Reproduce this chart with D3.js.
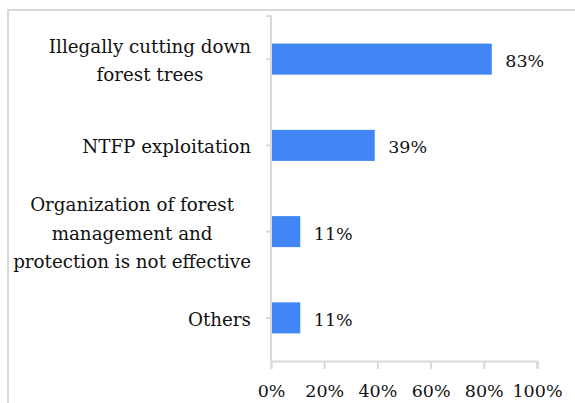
<!DOCTYPE html>
<html>
<head>
<meta charset="utf-8">
<script src="https://cdn.jsdelivr.net/npm/d3@7"></script>
<style>
  body { margin: 0; background: #fff; }
  text { font-family: "DejaVu Serif", serif; fill: #111; }
</style>
</head>
<body>
<svg id="chart" width="575" height="403"></svg>
<script>
// Causes of forest degradation (share of respondents, %)
const categories = [
  "Illegally cutting down forest trees",
  "NTFP exploitation",
  "Organization of forest management and protection is not effective",
  "Others"
];
// Line breaks used for each category label
const categoryLines = [
  ["Illegally cutting down", "forest trees"],
  ["NTFP exploitation"],
  ["Organization of forest", "management and", "protection is not effective"],
  ["Others"]
];
const values = [83, 39, 11, 11];
const xTicks = [0, 20, 40, 60, 80, 100];

const svg = d3.select("#chart");
const fontSize = 17.5;
const labelFontSize = 18.3;
const lineGap = 28.3;
const gridColor = "#d9d9d9";

// outer frame
svg.append("rect")
  .attr("x", 8).attr("y", 10)
  .attr("width", 700).attr("height", 600)
  .attr("fill", "none")
  .attr("stroke", gridColor)
  .attr("stroke-width", 2);

const x = d3.scaleLinear().domain([0, 100]).range([271, 537]);
const y = d3.scaleBand().domain(categories).range([16, 361])
  .paddingInner(0.64).paddingOuter(0.32);

// bars
svg.append("g").selectAll("rect")
  .data(values)
  .join("rect")
  .attr("x", x(0))
  .attr("y", (d, i) => y(categories[i]))
  .attr("width", d => x(d) - x(0))
  .attr("height", y.bandwidth())
  .attr("fill", "#4285f4");

// value labels
svg.append("g").selectAll("text")
  .data(values)
  .join("text")
  .attr("x", d => x(d) + 13.5)
  .attr("y", (d, i) => y(categories[i]) + y.bandwidth() / 2 + 8)
  .attr("font-size", fontSize)
  .text(d => d + "%");

// y axis
const yAxis = svg.append("g")
  .attr("transform", `translate(${x(0)},0)`)
  .call(d3.axisLeft(y).tickSize(5).tickSizeOuter(0).tickFormat(""));
yAxis.select(".domain")
  .attr("d", `M-5,${y.range()[0]}H0V${y.range()[1]}`);
yAxis.selectAll("path, line")
  .attr("stroke", gridColor)
  .attr("stroke-width", 2);

// x axis
const xAxis = svg.append("g")
  .attr("transform", `translate(0,${y.range()[1]})`)
  .call(d3.axisBottom(x).tickValues(xTicks).tickSize(8).tickSizeOuter(8)
    .tickPadding(16).tickFormat(d => d + "%"));
xAxis.selectAll("path, line")
  .attr("stroke", gridColor)
  .attr("stroke-width", 2);
xAxis.selectAll("text")
  .attr("font-size", fontSize)
  .attr("font-family", "'DejaVu Serif', serif")
  .attr("fill", "#111");

// category labels: block right-aligned to the axis, lines centred within the block
const labelRight = 251;
const labels = svg.append("g");
categoryLines.forEach((lines, i) => {
  const cy = y(categories[i]) + y.bandwidth() / 2;
  const g = labels.append("g");
  const texts = lines.map((ln, j) =>
    g.append("text")
      .attr("font-size", labelFontSize)
      .attr("text-anchor", "middle")
      .attr("y", cy + 8 + (j - (lines.length - 1) / 2) * lineGap)
      .text(ln));
  const w = d3.max(texts, t => t.node().getComputedTextLength());
  texts.forEach(t => t.attr("x", labelRight - w / 2));
});
</script>
</body>
</html>
